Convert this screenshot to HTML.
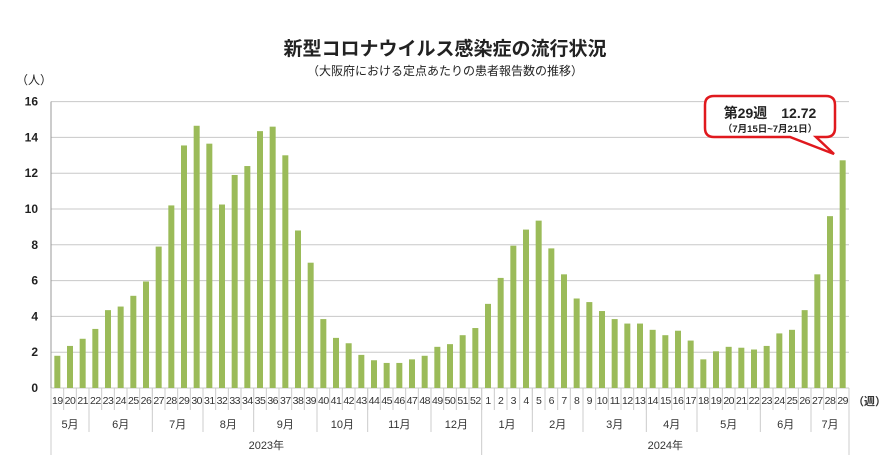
<!DOCTYPE html>
<html><head><meta charset="utf-8"><style>body{margin:0;background:#fff}svg{display:block}</style></head><body>
<svg id="s" width="896" height="471" xmlns="http://www.w3.org/2000/svg" font-family="Liberation Sans, Noto Sans CJK JP, sans-serif"></svg>
<script>
const s=document.getElementById('s');
const v=[1.8,2.35,2.75,3.3,4.35,4.55,5.15,5.95,7.9,10.2,13.55,14.65,13.65,10.25,11.9,12.4,14.35,14.6,13.0,8.8,7.0,3.85,2.8,2.5,1.85,1.55,1.4,1.4,1.6,1.8,2.3,2.45,2.95,3.35,
4.7,6.15,7.95,8.85,9.35,7.8,6.35,5.0,4.8,4.3,3.85,3.6,3.6,3.25,2.95,3.2,2.65,1.6,2.05,2.3,2.25,2.15,2.35,3.05,3.25,4.35,6.35,9.6,12.72];
const X0=51,X1=849,Y0=388,U=17.9,W=(X1-X0)/63;
let h='';
h+=`<text x="445" y="55" text-anchor="middle" font-size="19" font-weight="bold" fill="#222">新型コロナウイルス感染症の流行状況</text>`;
h+=`<text x="445" y="75" text-anchor="middle" font-size="12" fill="#222">（大阪府における定点あたりの患者報告数の推移）</text>`;
h+=`<text x="16" y="84" font-size="12" fill="#222">（人）</text>`;
for(let i=0;i<=8;i++){let y=Y0-i*2*U;h+=`<line x1="${X0}" x2="${X1}" y1="${y}" y2="${y}" stroke="#c8c8c8"/>`;h+=`<text x="38" y="${y+4}" text-anchor="end" font-size="12" font-weight="bold" fill="#222">${i*2}</text>`;}
h+=`<line x1="${X0}" x2="${X0}" y1="${Y0-16*U}" y2="${Y0}" stroke="#999"/>`;
v.forEach((d,i)=>{let cx=X0+W*(i+.5);h+=`<rect x="${cx-3}" y="${Y0-d*U}" width="6" height="${d*U}" fill="#9bbb59"/>`;
let wk=i<34?19+i:i-33;h+=`<text x="${cx}" y="404" text-anchor="middle" font-size="10.5" fill="#333" letter-spacing="-0.5">${wk}</text>`;
h+=`<line x1="${X0+W*i}" x2="${X0+W*i}" y1="${Y0}" y2="410" stroke="#ccc"/>`;});
const m=[[3,'5月'],[5,'6月'],[4,'7月'],[4,'8月'],[5,'9月'],[4,'10月'],[5,'11月'],[4,'12月'],[4,'1月'],[4,'2月'],[5,'3月'],[4,'4月'],[5,'5月'],[4,'6月'],[3,'7月']];
let k=0;h+=`<line x1="${X0}" x2="${X0}" y1="${Y0}" y2="455" stroke="#ccc"/>`;
m.forEach(([n,t])=>{let a=X0+W*k,b=X0+W*(k+n);h+=`<text x="${(a+b)/2}" y="428" text-anchor="middle" font-size="11" fill="#333">${t}</text>`;k+=n;
h+=`<line x1="${b}" x2="${b}" y1="${Y0}" y2="${k==34||k==63?455:432}" stroke="#ccc"/>`;});
h+=`<text x="${X0+W*17}" y="449" text-anchor="middle" font-size="11" fill="#333">2023年</text>`;
h+=`<text x="${X0+W*48.5}" y="449" text-anchor="middle" font-size="11" fill="#333">2024年</text>`;
h+=`<text x="853" y="405" font-size="11" font-weight="bold" fill="#333">（週）</text>`;
h+=`<path d="M714,96 H826 Q835,96 835,105 V128 Q835,137 826,137 H816 L834,154 L790,137 H714 Q705,137 705,128 V105 Q705,96 714,96 Z" fill="#fff" stroke="#e0191e" stroke-width="2.5"/>`;
h+=`<text x="770" y="118" text-anchor="middle" font-size="14" font-weight="bold" fill="#222">第29週　12.72</text>`;
h+=`<text x="770" y="132" text-anchor="middle" font-size="9.5" font-weight="bold" fill="#222">（7月15日~7月21日）</text>`;
s.innerHTML=h;
</script>
</body></html>
